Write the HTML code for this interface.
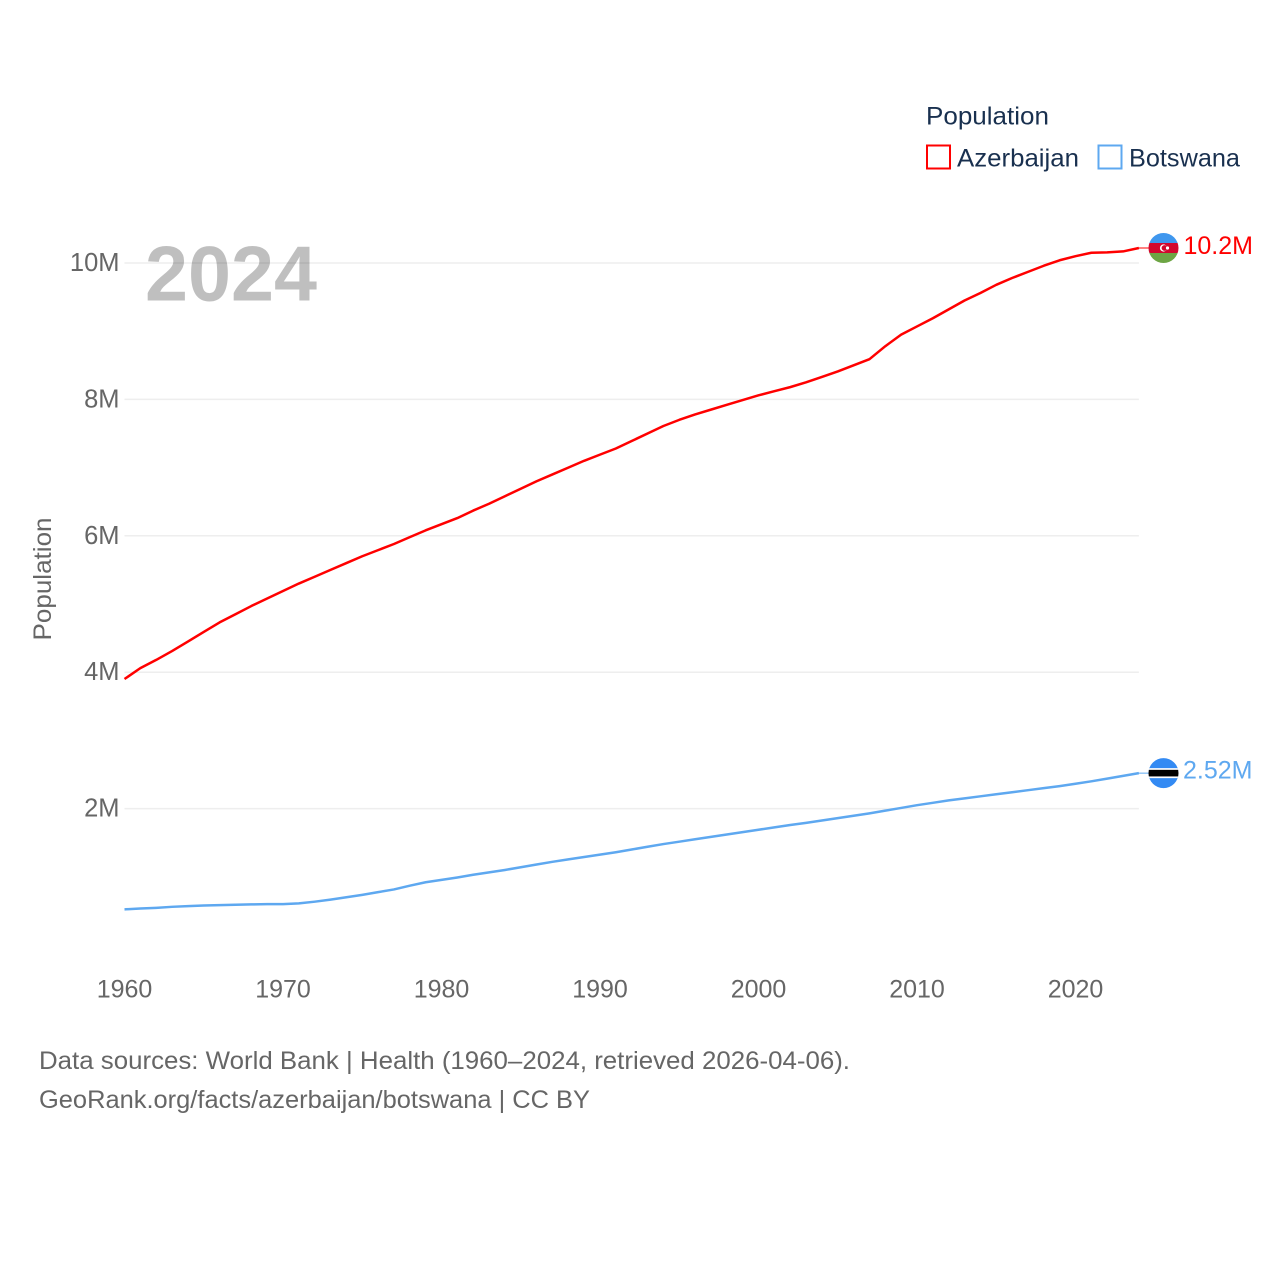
<!DOCTYPE html>
<html lang="en">
<head>
<meta charset="utf-8">
<title>Population: Azerbaijan and Botswana</title>
<style>
  html, body { margin: 0; padding: 0; background: #fff; }
  svg { display: block; font-family: "Liberation Sans", sans-serif; }
</style>
</head>
<body>
<svg id="chart" xmlns="http://www.w3.org/2000/svg" width="1280" height="1280" viewBox="0 0 1280 1280">
  <rect x="0" y="0" width="1280" height="1280" fill="#ffffff"/>
  <g id="grid"></g>
  <text x="145" y="300.5" font-size="78" font-weight="700" fill="#000000" fill-opacity="0.25" textLength="172" lengthAdjust="spacingAndGlyphs">2024</text>
  <g id="yticks"></g>
  <g id="xticks"></g>
  <text transform="translate(51 579) rotate(-90)" text-anchor="middle" font-size="25" fill="#666666" textLength="123" lengthAdjust="spacingAndGlyphs">Population</text>
  <g id="series"></g>

  <g>
    <text x="926" y="124.5" font-size="25" fill="#19304f" textLength="123" lengthAdjust="spacingAndGlyphs">Population</text>
    <g>
      <rect x="927" y="145.5" width="23" height="23" fill="#ffffff" stroke="#ff0000" stroke-width="2"/>
      <text x="957" y="166.5" font-size="25" fill="#19304f" textLength="122" lengthAdjust="spacingAndGlyphs">Azerbaijan</text>
    </g>
    <g>
      <rect x="1098.5" y="145.5" width="23" height="23" fill="#ffffff" stroke="#5ea8f0" stroke-width="2"/>
      <text x="1129" y="166.5" font-size="25" fill="#19304f" textLength="111" lengthAdjust="spacingAndGlyphs">Botswana</text>
    </g>
  </g>

  <g id="markers"></g>

  <g>
    <text x="39" y="1069" font-size="25" fill="#666666" textLength="811" lengthAdjust="spacingAndGlyphs">Data sources: World Bank | Health (1960–2024, retrieved 2026-04-06).</text>
    <text x="39" y="1108" font-size="25" fill="#666666" textLength="551" lengthAdjust="spacingAndGlyphs">GeoRank.org/facts/azerbaijan/botswana | CC BY</text>
  </g>
</svg>
<script>
const years = [1960,1961,1962,1963,1964,1965,1966,1967,1968,1969,1970,1971,1972,1973,1974,1975,1976,1977,1978,1979,1980,1981,1982,1983,1984,1985,1986,1987,1988,1989,1990,1991,1992,1993,1994,1995,1996,1997,1998,1999,2000,2001,2002,2003,2004,2005,2006,2007,2008,2009,2010,2011,2012,2013,2014,2015,2016,2017,2018,2019,2020,2021,2022,2023,2024];
const azerbaijan = [3.90,4.06,4.18,4.31,4.45,4.59,4.73,4.85,4.97,5.08,5.19,5.30,5.40,5.50,5.60,5.70,5.79,5.88,5.98,6.08,6.17,6.26,6.37,6.47,6.58,6.69,6.80,6.90,7.00,7.10,7.19,7.28,7.39,7.50,7.61,7.70,7.78,7.85,7.92,7.99,8.06,8.12,8.18,8.25,8.33,8.41,8.50,8.59,8.78,8.95,9.07,9.19,9.32,9.45,9.56,9.68,9.78,9.87,9.96,10.04,10.10,10.15,10.155,10.17,10.22];
const botswana = [0.523,0.535,0.545,0.56,0.57,0.58,0.585,0.59,0.595,0.60,0.60,0.61,0.635,0.665,0.70,0.735,0.775,0.815,0.87,0.92,0.955,0.99,1.03,1.065,1.10,1.14,1.18,1.22,1.255,1.29,1.325,1.36,1.40,1.44,1.48,1.515,1.55,1.585,1.62,1.655,1.69,1.725,1.76,1.79,1.825,1.86,1.895,1.93,1.97,2.01,2.05,2.085,2.12,2.15,2.18,2.21,2.24,2.27,2.30,2.33,2.365,2.40,2.44,2.48,2.52];
const xTickYears = [1960,1970,1980,1990,2000,2010,2020];
const yTickValues = [2,4,6,8,10];
const yTickLabels = ["2M","4M","6M","8M","10M"];
const endLabels = ["10.2M","2.52M"];

const SVG_NS = "http://www.w3.org/2000/svg";
const xScale = function (year) { return 124.5 + (year - 1960) * 15.85; };
const yScale = function (value) { return 945 - value * 68.2; };
const make = function (tag, parent, attrs) {
  const el = document.createElementNS(SVG_NS, tag);
  Object.keys(attrs).forEach(function (k) { el.setAttribute(k, attrs[k]); });
  parent.appendChild(el);
  return el;
};

const gridGroup = document.getElementById("grid");
const yTickGroup = document.getElementById("yticks");
yTickValues.forEach(function (value, i) {
  const line = make("line", gridGroup, { x1: xScale(1960), x2: xScale(2024), y1: yScale(value), y2: yScale(value), stroke: "#eeeeee", "stroke-width": 1.5 });
  
  
  const label = make("text", yTickGroup, { x: 119.5, y: yScale(value) + 8, "text-anchor": "end", "font-size": 25.5, fill: "#666666" });
  
  
  label.textContent = yTickLabels[i];
});

const xTickGroup = document.getElementById("xticks");
xTickYears.forEach(function (year) {
  const label = make("text", xTickGroup, { x: xScale(year), y: 997.5, "text-anchor": "middle", "font-size": 25, fill: "#666666" });
  
  
  label.textContent = String(year);
});

const seriesGroup = document.getElementById("series");
const linePoints = function (values) {
  return values.map(function (v, i) { return xScale(years[i]).toFixed(2) + "," + yScale(v).toFixed(2); }).join(" ");
};
const azLine = make("polyline", seriesGroup, { points: linePoints(azerbaijan), fill: "none", stroke: "#ff0000", "stroke-width": 2.5, "stroke-linejoin": "round" });


const bwLine = make("polyline", seriesGroup, { points: linePoints(botswana), fill: "none", stroke: "#5ea8f0", "stroke-width": 2.5, "stroke-linejoin": "round" });



const markerGroup = document.getElementById("markers");
const flagX = 1163.5;
const flagR = 15;
const band = function (parent, cy, top, bottom, fill) {
  const w = flagR * 2;
  return make("rect", parent, { x: flagX - flagR, y: cy + top, width: w, height: bottom - top, fill: fill });
};

const azLast = azerbaijan[azerbaijan.length - 1];
const azY = yScale(azLast);
const azTail = make("line", markerGroup, { x1: xScale(2024), x2: flagX - flagR, y1: azY, y2: azY, stroke: "#ff0000", "stroke-width": 1 });


const azClip = make("clipPath", markerGroup, { id: "az-clip" });
make("circle", azClip, { cx: flagX, cy: azY, r: flagR });
const azFlag = make("g", markerGroup, { "clip-path": "url(#az-clip)" });


band(azFlag, azY, -15, -5, "#3f97ee");
band(azFlag, azY, -5, 5, "#d3072e");
band(azFlag, azY, 5, 15, "#6da544");
make("circle", azFlag, { cx: flagX, cy: azY, r: 3.6, fill: "#ffffff" });
make("circle", azFlag, { cx: flagX + 1, cy: azY, r: 2.9, fill: "#d3072e" });
make("circle", azFlag, { cx: flagX + 4, cy: azY, r: 1.6, fill: "#ffffff" });
const azLabel = make("text", markerGroup, { x: 1183.5, y: azY + 6, "font-size": 25, fill: "#ff0000" });


azLabel.textContent = endLabels[0];

const bwLast = botswana[botswana.length - 1];
const bwY = yScale(bwLast);
const bwTail = make("line", markerGroup, { x1: xScale(2024), x2: flagX - flagR, y1: bwY, y2: bwY, stroke: "#5ea8f0", "stroke-width": 1 });


const bwClip = make("clipPath", markerGroup, { id: "bw-clip" });
make("circle", bwClip, { cx: flagX, cy: bwY, r: flagR });
const bwFlag = make("g", markerGroup, { "clip-path": "url(#bw-clip)" });


band(bwFlag, bwY, -15.5, 15.5, "#338af3");
band(bwFlag, bwY, -5, 5, "#ffffff");
band(bwFlag, bwY, -3.3, 3.3, "#000000");
const bwLabel = make("text", markerGroup, { x: 1183, y: bwY + 5.5, "font-size": 25, fill: "#5ea8f0" });


bwLabel.textContent = endLabels[1];
</script>
</body>
</html>
